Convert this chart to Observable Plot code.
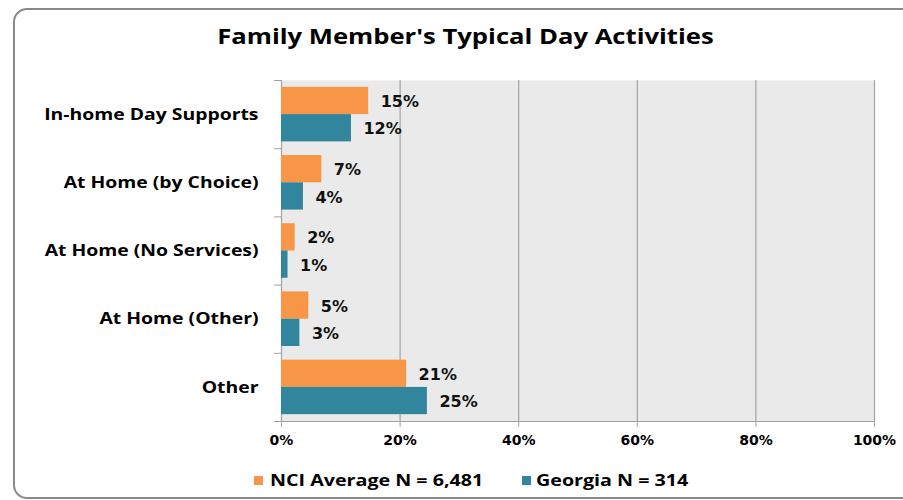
<!DOCTYPE html>
<html>
<head>
<meta charset="utf-8">
<script src="https://cdn.jsdelivr.net/npm/d3@7"></script>
<script src="https://cdn.jsdelivr.net/npm/@observablehq/plot@0.6"></script>
<style>
  html, body { margin: 0; padding: 0; background: #fff; }
  #wrap { position: relative; width: 903px; height: 500px; overflow: hidden; }
  #border { position: absolute; left: 13px; top: 8px; width: 920px; height: 491px; box-sizing: border-box;
            border: 2px solid #8a8a8a; border-radius: 14px; pointer-events: none; }
  #title { height: 64px; box-sizing: border-box; padding-top: 21px; text-align: center; padding-left: 27px;
           font-family: "Open Sans", sans-serif; font-weight: 700; font-size: 21px; color: #000; line-height: 30px; }
  #title span { display: inline-block; transform: scaleX(1.22); transform-origin: center; }
  #legend { position: relative; height: 36px; font-family: "Open Sans", sans-serif; font-weight: 700; font-size: 16px; color: #000; }
  .sw { position: absolute; top: 12px; width: 9px; height: 9px; }
  .lt { position: absolute; top: 5px; white-space: nowrap; line-height: 22px; transform: scaleX(1.23); transform-origin: left center; }
</style>
</head>
<body>
<div id="wrap">
  <div id="title"><span></span></div>
  <div id="chart"></div>
  <div id="legend"></div>
  <div id="border"></div>
</div>
<script>
const titleText = "Family Member's Typical Day Activities";
const categories = ["In-home Day Supports", "At Home (by Choice)", "At Home (No Services)", "At Home (Other)", "Other"];
const seriesNames = ["NCI Average N = 6,481", "Georgia N = 314"];
const nciValues = [14.7, 6.8, 2.3, 4.6, 21.1];
const georgiaValues = [11.8, 3.7, 1.1, 3.1, 24.6];
const seriesColors = ["#F79646", "#31859C"];
const xTicks = [0, 20, 40, 60, 80, 100];

document.querySelector("#title span").textContent = titleText;

const seriesValues = [nciValues, georgiaValues];
const rows = [];
categories.forEach((c, i) => {
  seriesValues.forEach((vals, s) => {
    rows.push({category: c, index: i, series: seriesNames[s], s, value: vals[i],
               y1: i + 0.1 + 0.4 * s, y2: i + 0.5 + 0.4 * s});
  });
});

const boundaries = d3.range(0, categories.length + 1);
const centers = categories.map((c, i) => i + 0.5);

const chart = Plot.plot({
  width: 903,
  height: 400,
  marginLeft: 281,
  marginRight: 29,
  marginTop: 16,
  marginBottom: 43,
  style: {fontFamily: "DejaVu Sans", fontWeight: "bold", fontSize: "14px", color: "#000", background: "transparent"},
  x: {domain: [0, 100]},
  y: {domain: [0, categories.length], reverse: true},
  color: {domain: seriesNames, range: seriesColors},
  marks: [
    Plot.frame({fill: "#EAEAEA", stroke: null}),
    Plot.ruleX(xTicks, {stroke: "#A3A3A3", strokeWidth: 1.2}),
    Plot.ruleY([categories.length], {stroke: "#A3A3A3", strokeWidth: 1.2}),
    Plot.rectX(rows, {x: "value", y1: "y1", y2: "y2", fill: "series"}),
    Plot.text(rows, {x: "value", y: d => (d.y1 + d.y2) / 2, text: d => Math.round(d.value) + "%",
      textAnchor: "start", dx: 12, dy: 1, fontSize: 16, fontWeight: "bold", fontFamily: "DejaVu Sans", fill: "#111"}),
    Plot.axisX(xTicks, {tickSize: 6, tickPadding: 8, tickFormat: d => d + "%", stroke: "#A3A3A3",
      fontSize: 14, fontWeight: "bold", fontFamily: "DejaVu Sans", fill: "#000", label: null}),
    Plot.axisY(boundaries, {tickSize: 7, tickFormat: () => "", stroke: "#A3A3A3", label: null}),
    Plot.axisY(centers, {tickSize: 0, tickPadding: 23, tickFormat: v => categories[Math.floor(v)],
      fontSize: 16, fontWeight: "bold", fontFamily: "Open Sans", fill: "#000", label: null})
  ]
});
document.getElementById("chart").appendChild(chart);

// widen the category labels horizontally, like the reference's stretched type
chart.querySelectorAll("text").forEach(t => {
  if (categories.includes(t.textContent)) {
    const len = t.getComputedTextLength();
    t.setAttribute("textLength", (len * 1.21).toFixed(1));
    t.setAttribute("lengthAdjust", "spacingAndGlyphs");
  }
});

const legend = document.getElementById("legend");
const swatchLefts = [254, 522];
const textLefts = [270, 536];
seriesNames.forEach((name, s) => {
  const sw = document.createElement("div");
  sw.className = "sw";
  sw.style.left = swatchLefts[s] + "px";
  sw.style.background = seriesColors[s];
  const t = document.createElement("div");
  t.className = "lt";
  t.style.left = textLefts[s] + "px";
  t.textContent = name;
  legend.appendChild(sw);
  legend.appendChild(t);
});
</script>
</body>
</html>
